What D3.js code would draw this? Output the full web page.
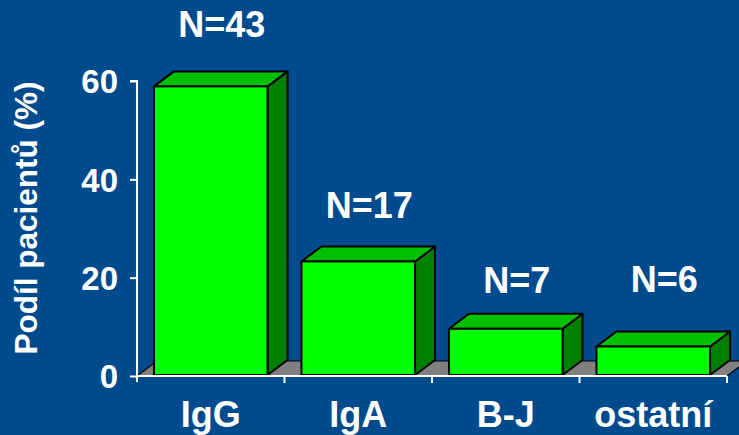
<!DOCTYPE html>
<html>
<head>
<meta charset="utf-8">
<script src="https://cdn.jsdelivr.net/npm/d3@7"></script>
<style>
  html, body { margin: 0; padding: 0; background: #004a8e; }
  svg { display: block; }
  text { font-family: "Liberation Sans", Arial, sans-serif; font-weight: bold; fill: #ffffff; }
</style>
</head>
<body>
<svg id="chart" width="739" height="435"></svg>
<script>
// Paraprotein type, share of patients (%) and patient counts
const categories = ["IgG", "IgA", "B-J", "ostatní"];
const shares = [58.9, 23.3, 9.6, 6];
const counts = [43, 17, 7, 6];
const yTicks = [0, 20, 40, 60];
const yTitle = "Podíl pacientů (%)";

// layout
const W = 739, H = 435;
const left = 137, right = 727, floorY = 376, topY = 81;
const depthX = 20, depthY = -15;           // 3D offset of the back faces
const labelLift = [49, 43, 36, 55];        // gap between count label baseline and bar top

const svg = d3.select("#chart");
svg.append("rect").attr("width", W).attr("height", H).attr("fill", "#004a8e");

const x = d3.scaleBand().domain(categories).range([left, right]).padding(0);
const y = d3.scaleLinear().domain([0, 60]).range([floorY, topY]);
const barW = x.bandwidth() * 0.77;

// floor of the 3D plot
svg.append("path")
  .attr("d", `M${left},${floorY} L${left + depthX},${floorY + depthY} L${right + depthX},${floorY + depthY} L${right},${floorY} Z`)
  .attr("fill", "#808080").attr("stroke", "#000").attr("stroke-width", 1.2);

// bars as boxes: front, top and right-hand side
const bars = svg.append("g").selectAll("g").data(categories).join("g");
bars.each(function (c, i) {
  const g = d3.select(this);
  const x0 = x(c) + (x.bandwidth() - barW) / 2, x1 = x0 + barW;
  const yt = y(shares[i]), yb = y(0) - 1;
  g.append("path") // side
    .attr("d", `M${x1},${yb} L${x1 + depthX},${yb + depthY} L${x1 + depthX},${yt + depthY} L${x1},${yt} Z`)
    .attr("fill", "#008000").attr("stroke", "#000").attr("stroke-width", 2).attr("stroke-linejoin", "round");
  g.append("path") // top
    .attr("d", `M${x0},${yt} L${x0 + depthX},${yt + depthY} L${x1 + depthX},${yt + depthY} L${x1},${yt} Z`)
    .attr("fill", "#00c000").attr("stroke", "#000").attr("stroke-width", 2).attr("stroke-linejoin", "round");
  g.append("rect") // front
    .attr("x", x0).attr("y", yt).attr("width", barW).attr("height", yb - yt)
    .attr("fill", "#00ff00").attr("stroke", "#000").attr("stroke-width", 2);
});

// count labels above the bars
svg.append("g").selectAll("text").data(categories).join("text")
  .attr("x", c => x(c) + x.bandwidth() / 2 + 11)
  .attr("y", (c, i) => y(shares[i]) - labelLift[i])
  .attr("text-anchor", "middle")
  .attr("font-size", 36)
  .text((c, i) => "N=" + counts[i]);

// y axis
const yAxis = svg.append("g").attr("transform", `translate(${left},0)`)
  .call(d3.axisLeft(y).tickValues(yTicks).tickSize(7).tickPadding(12));
yAxis.select(".domain").attr("stroke", "#fff").attr("stroke-width", 2)
  .attr("d", `M-7,${topY}H0V${floorY + 6}`);
yAxis.selectAll(".tick line").attr("stroke", "#fff").attr("stroke-width", 2);
yAxis.selectAll(".tick text").attr("font-size", 33).attr("fill", "#fff")
  .attr("font-family", "Liberation Sans, Arial, sans-serif").attr("font-weight", "bold")
  .attr("dy", "0.36em");

// x axis with ticks at category boundaries
const xAxis = svg.append("g").attr("transform", `translate(0,${floorY})`);
xAxis.append("line").attr("x1", left).attr("x2", right).attr("stroke", "#fff").attr("stroke-width", 2);
xAxis.selectAll("line.tick").data(categories).join("line")
  .attr("class", "tick")
  .attr("x1", c => x(c) + x.bandwidth()).attr("x2", c => x(c) + x.bandwidth())
  .attr("y1", 0).attr("y2", 7).attr("stroke", "#fff").attr("stroke-width", 2);
xAxis.selectAll("text").data(categories).join("text")
  .attr("x", c => x(c) + x.bandwidth() / 2)
  .attr("y", 51)
  .attr("text-anchor", "middle")
  .attr("font-size", 36)
  .text(c => c);

// y axis title
svg.append("text")
  .attr("transform", "translate(37,218) rotate(-90)")
  .attr("text-anchor", "middle")
  .attr("font-size", 31.5)
  .text(yTitle);
</script>
</body>
</html>
